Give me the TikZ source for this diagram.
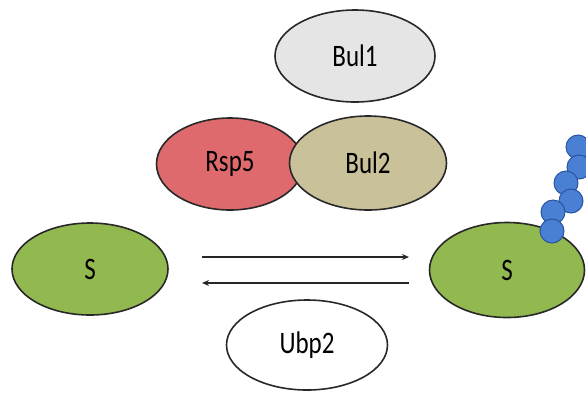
\documentclass[tikz,border=0pt]{standalone}
\usepackage{fontspec}
\setmainfont{Carlito}
\usetikzlibrary{shapes.geometric,arrows.meta}
\definecolor{sgreen}{RGB}{146,184,80}
\definecolor{rspred}{RGB}{222,106,110}
\definecolor{bultan}{RGB}{201,193,153}
\definecolor{bulgray}{RGB}{229,229,229}
\definecolor{ubblue}{RGB}{74,128,212}
\definecolor{ubedge}{RGB}{42,84,160}
\definecolor{outl}{RGB}{40,40,40}
\tikzset{
  prot/.style={ellipse, draw=outl, line width=1.6pt, inner sep=0pt,
    font=\fontsize{25}{25}\selectfont, text=black},
  ub/.style={circle, draw=ubedge, fill=ubblue, line width=1pt, minimum size=24pt, inner sep=0pt},
  rxn/.style={line width=1.3pt, draw=black!85, -{Stealth[length=7pt,width=6pt]}}
}
\newcommand{\tallt}[1]{\scalebox{1}[1.25]{#1}}
\begin{document}
\begin{tikzpicture}[x=1pt,y=-1pt]
\useasboundingbox (0,0) rectangle (586,392);
\node[prot, fill=bulgray, minimum width=160pt, minimum height=92pt] (bul1) at (355,56) {\tallt{Bul1}};
\node[prot, fill=rspred, minimum width=147pt, minimum height=92pt] (rsp5) at (230,164) {\tallt{Rsp5}};
\node[prot, fill=bultan, minimum width=157pt, minimum height=94pt] (bul2) at (368,163) {\tallt{Bul2}};
\node[prot, fill=sgreen, minimum width=156pt, minimum height=92pt] (sl) at (90,269) {\tallt{S}};
\node[prot, fill=sgreen, minimum width=155pt, minimum height=95pt] (sr) at (507,270) {\tallt{S}};
\node[prot, fill=white, minimum width=161pt, minimum height=90pt] (ubp2) at (307,345) {\tallt{Ubp2}};
\node[ub] (u6) at (578,147) {};
\node[ub] (u5) at (579,167) {};
\node[ub] (u4) at (566,183) {};
\node[ub] (u3) at (571,201) {};
\node[ub] (u2) at (553,212) {};
\node[ub] (u1) at (552,231) {};
\coordinate (f1) at (202,257);
\coordinate (f2) at (409,257);
\coordinate (r1) at (409,283);
\coordinate (r2) at (202,283);
\draw[rxn] (f1) -- (f2);
\draw[rxn] (r1) -- (r2);
\end{tikzpicture}
\end{document}
